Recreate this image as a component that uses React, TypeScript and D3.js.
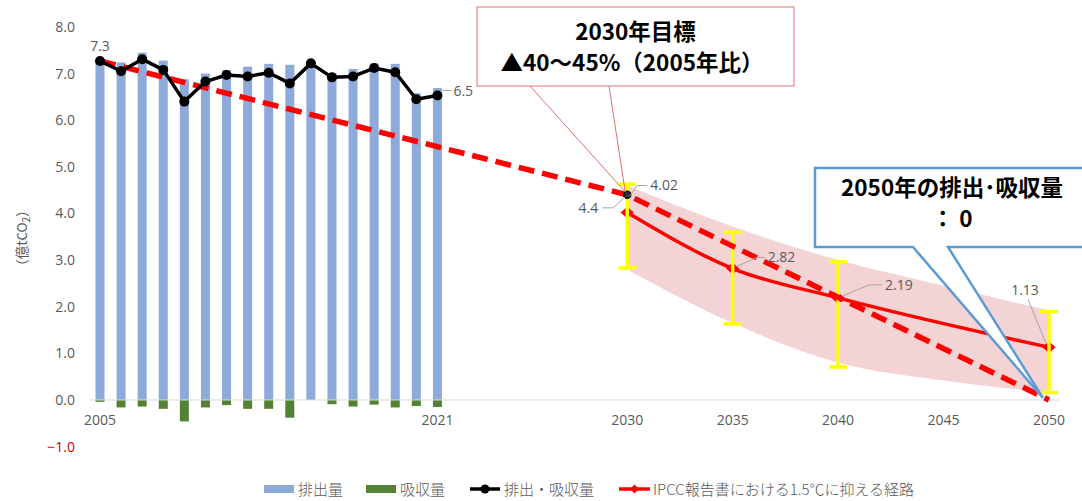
import React from "react";
import * as d3 from "d3";

// Historical inventory (億tCO2)
const histYears = [2005, 2006, 2007, 2008, 2009, 2010, 2011, 2012, 2013, 2014, 2015, 2016, 2017, 2018, 2019, 2020, 2021];
const emissions = [7.31, 7.24, 7.45, 7.28, 6.88, 7.0, 7.08, 7.15, 7.21, 7.19, 7.22, 7.01, 7.1, 7.22, 7.21, 6.58, 6.69];
const absorption = [-0.04, -0.16, -0.14, -0.19, -0.46, -0.16, -0.11, -0.19, -0.19, -0.38, 0, -0.09, -0.14, -0.1, -0.16, -0.13, -0.15];
const netValues = [7.27, 7.05, 7.31, 7.08, 6.4, 6.83, 6.97, 6.94, 7.02, 6.79, 7.22, 6.92, 6.94, 7.12, 7.03, 6.45, 6.53];

// National target path
const targetYears = [2005, 2030, 2050];
const targetValues = [7.27, 4.4, 0];

// IPCC 1.5°C pathway (median and range)
const ipccYears = [2030, 2035, 2040, 2050];
const ipccValues = [4.02, 2.82, 2.19, 1.13];
const ipccHigh = [4.63, 3.6, 2.96, 1.9];
const ipccLow = [2.83, 1.63, 0.71, 0.16];
const bandYears = [2030, 2035, 2040, 2045, 2050];
const bandUpper = [4.6, 3.72, 3.0, 2.45, 1.92];
const bandLower = [2.8, 1.65, 0.8, 0.42, 0.16];

const xTicks = [2005, 2021, 2030, 2035, 2040, 2045, 2050];
const yTicks = [-1, 0, 1, 2, 3, 4, 5, 6, 7, 8];

const legendItems = ["排出量", "吸収量", "排出・吸収量", "IPCC報告書における1.5℃に抑える経路"];

const W = 1082;
const H = 501;
const GREY = "#595959";
const TICK_FONT = "'Open Sans', 'Liberation Sans', sans-serif";
const JP_FONT = "'Noto Sans CJK JP', 'Noto Sans', sans-serif";

export default function App() {
  const x = d3.scaleLinear().domain([2005, 2050]).range([100, 1049]);
  const y = d3.scaleLinear().domain([-1, 8]).range([446.6, 27]);
  const barW = 9;

  const netLine = d3
    .line<number>()
    .x((_, i) => x(histYears[i]))
    .y((d) => y(d));
  const targetLine = d3
    .line<number>()
    .x((_, i) => x(targetYears[i]))
    .y((d) => y(d));
  const ipccLine = d3
    .line<number>()
    .x((_, i) => x(ipccYears[i]))
    .y((d) => y(d))
    .curve(d3.curveMonotoneX);
  const band = d3
    .area<number>()
    .x((_, i) => x(bandYears[i]))
    .y0((_, i) => y(bandLower[i]))
    .y1((d) => y(d))
    .curve(d3.curveMonotoneX);

  const diamond = (cx: number, cy: number, hw: number, hh: number) =>
    `M${cx - hw},${cy}L${cx},${cy - hh}L${cx + hw},${cy}L${cx},${cy + hh}Z`;

  const f1 = d3.format(".1f");
  const f2 = d3.format(".2f");

  const px = (yr: number) => x(yr);
  const ipccPt = (i: number) => [x(ipccYears[i]), y(ipccValues[i])];
  const lastI = histYears.length - 1;
  const tgt2030 = [x(targetYears[1]), y(targetValues[1])];

  const calloutText = {
    fontFamily: JP_FONT,
    fontWeight: 700,
    fontSize: 22.5,
    fill: "#000",
    textAnchor: "middle" as const,
  };

  return (
    <svg
      width={W}
      height={H}
      viewBox={`0 0 ${W} ${H}`}
      style={{ position: "absolute", left: 0, top: 0, background: "#fff", display: "block" }}
    >
      <rect width={W} height={H} fill="#fff" />

      {/* emission / absorption bars */}
      {histYears.map((yr, i) => (
        <g key={yr}>
          <rect x={px(yr) - barW / 2} y={y(emissions[i])} width={barW} height={y(0) - y(emissions[i])} fill="#8eaadb" />
          {absorption[i] < 0 && (
            <rect x={px(yr) - barW / 2} y={y(0)} width={barW} height={y(absorption[i]) - y(0)} fill="#548235" />
          )}
        </g>
      ))}

      {/* baseline */}
      <line x1={90} x2={1060} y1={y(0)} y2={y(0)} stroke="#d9d9d9" strokeWidth={1} />

      {/* y tick labels */}
      {yTicks.map((t) => (
        <text
          key={t}
          x={75}
          y={y(t)}
          dy="0.35em"
          textAnchor="end"
          fontFamily={TICK_FONT}
          fontSize={14}
          fill={t < 0 ? "#cc0000" : GREY}
        >
          {f1(t)}
        </text>
      ))}

      {/* x tick labels */}
      {xTicks.map((t) => (
        <text key={t} x={x(t)} y={425} textAnchor="middle" fontFamily={TICK_FONT} fontSize={14} fill={GREY}>
          {t}
        </text>
      ))}

      {/* y axis title */}
      <text
        transform="translate(27,238) rotate(-90)"
        textAnchor="middle"
        fontFamily={JP_FONT}
        fontSize={13.5}
        fill={GREY}
      >
        （億tCO<tspan fontSize={10} dy={3}>2</tspan>
        <tspan dy={-3}>）</tspan>
      </text>

      {/* IPCC range band */}
      <path d={band(bandUpper) || ""} fill="#efc4c4" fillOpacity={0.75} />

      {/* IPCC median path */}
      <path d={ipccLine(ipccValues) || ""} fill="none" stroke="#ff0000" strokeWidth={3.5} />
      {ipccYears.map((yr, i) => (
        <path key={yr} d={diamond(x(yr), y(ipccValues[i]), 6.5, 6)} fill="#ff0000" />
      ))}

      {/* IPCC range error bars */}
      {ipccYears.map((yr, i) => (
        <g key={yr} stroke="#ffff00" strokeWidth={3.5}>
          <line x1={x(yr)} x2={x(yr)} y1={y(ipccHigh[i])} y2={y(ipccLow[i])} />
          <line x1={x(yr) - 9} x2={x(yr) + 9} y1={y(ipccHigh[i])} y2={y(ipccHigh[i])} />
          <line x1={x(yr) - 9} x2={x(yr) + 9} y1={y(ipccLow[i])} y2={y(ipccLow[i])} />
        </g>
      ))}

      {/* target path */}
      <path
        d={targetLine(targetValues) || ""}
        fill="none"
        stroke="#ff0000"
        strokeWidth={5.5}
        strokeDasharray="16 8"
      />
      <circle cx={tgt2030[0]} cy={tgt2030[1]} r={3.5} fill="#333" stroke="#000" strokeWidth={1.5} />

      {/* net emissions line */}
      <path d={netLine(netValues) || ""} fill="none" stroke="#000" strokeWidth={3.5} strokeLinejoin="round" />
      {histYears.map((yr, i) => (
        <circle key={yr} cx={px(yr)} cy={y(netValues[i])} r={5} fill="#000" />
      ))}

      {/* value labels */}
      <g fontFamily={TICK_FONT} fontSize={14} fill={GREY}>
        <text x={px(histYears[0])} y={y(netValues[0]) - 15} dy="0.35em" textAnchor="middle">
          {f1(netValues[0])}
        </text>
        <text x={px(histYears[lastI]) + 16} y={y(netValues[lastI]) - 4} dy="0.35em">
          {f1(netValues[lastI])}
        </text>
        <text x={tgt2030[0] - 29} y={tgt2030[1] + 13} dy="0.35em" textAnchor="end">
          {f1(targetValues[1])}
        </text>
        <text x={ipccPt(0)[0] + 23} y={ipccPt(0)[1] - 27} dy="0.35em">
          {f2(ipccValues[0])}
        </text>
        <text x={ipccPt(1)[0] + 35} y={ipccPt(1)[1] - 11} dy="0.35em">
          {f2(ipccValues[1])}
        </text>
        <text x={ipccPt(2)[0] + 47} y={ipccPt(2)[1] - 13} dy="0.35em">
          {f2(ipccValues[2])}
        </text>
        <text x={ipccPt(3)[0] - 24} y={ipccPt(3)[1] - 57} dy="0.35em" textAnchor="middle">
          {f2(ipccValues[3])}
        </text>
      </g>
      <g fill="none" stroke="#a6a6a6" strokeWidth={1}>
        <path d={`M${px(histYears[lastI]) + 5},${y(netValues[lastI]) - 5}H${px(histYears[lastI]) + 14}`} />
        <path d={`M${tgt2030[0] - 25},${tgt2030[1] + 13}H${tgt2030[0] - 14}L${tgt2030[0] - 2},${tgt2030[1] + 2}`} />
        <path d={`M${ipccPt(0)[0] + 2},${ipccPt(0)[1] - 16}L${ipccPt(0)[0] + 10},${ipccPt(0)[1] - 27}H${ipccPt(0)[0] + 20}`} />
        <path d={`M${ipccPt(1)[0] + 4},${ipccPt(1)[1] - 2}L${ipccPt(1)[0] + 24},${ipccPt(1)[1] - 11}H${ipccPt(1)[0] + 32}`} />
        <path d={`M${ipccPt(2)[0] + 5},${ipccPt(2)[1] - 2}L${ipccPt(2)[0] + 31},${ipccPt(2)[1] - 13}H${ipccPt(2)[0] + 44}`} />
        <path d={`M${ipccPt(3)[0] - 3},${ipccPt(3)[1] - 4}L${ipccPt(3)[0] - 21},${ipccPt(3)[1] - 48}`} />
      </g>

      {/* 2030 target callout */}
      <g>
        <line x1={530} y1={86} x2={tgt2030[0] - 2} y2={tgt2030[1] - 3} stroke="#e07070" strokeWidth={1} />
        <line x1={609} y1={86} x2={tgt2030[0] - 2} y2={tgt2030[1] - 3} stroke="#e07070" strokeWidth={1} />
        <rect x={477} y={7} width={317} height={79} fill="#fff" stroke="#e07070" strokeWidth={1} />
        <text x={635.5} y={40} {...calloutText}>
          2030年目標
        </text>
        <text x={632} y={71} {...calloutText}>
          ▲40～45%（2005年比）
        </text>
      </g>

      {/* 2050 net-zero callout */}
      <g>
        <path
          d={`M815,168H1096V247H948L${x(2050) - 6},${y(0) - 2}L913,247H815Z`}
          fill="#fff"
          stroke="#5b9bd5"
          strokeWidth={2.5}
          strokeLinejoin="miter"
        />
        <text x={952} y={196} {...calloutText}>
          2050年の排出･吸収量
        </text>
        <text x={952} y={227} {...calloutText}>
          ： 0
        </text>
      </g>

      {/* legend */}
      <g fontFamily={JP_FONT} fontSize={15} fontWeight={300} fill={GREY}>
        <rect x={264} y={485} width={30} height={8} fill="#8eaadb" />
        <text x={298} y={494.5}>{legendItems[0]}</text>
        <rect x={366} y={485} width={30} height={8} fill="#548235" />
        <text x={400} y={494.5}>{legendItems[1]}</text>
        <line x1={470} x2={500} y1={489} y2={489} stroke="#000" strokeWidth={3.5} />
        <circle cx={485} cy={489} r={4.5} fill="#000" />
        <text x={504} y={494.5}>{legendItems[2]}</text>
        <line x1={619} x2={650} y1={489} y2={489} stroke="#ff0000" strokeWidth={3.5} />
        <path d={diamond(634.5, 489, 4.5, 4.5)} fill="#ff0000" />
        <text x={653} y={494.5}>{legendItems[3]}</text>
      </g>
    </svg>
  );
}
